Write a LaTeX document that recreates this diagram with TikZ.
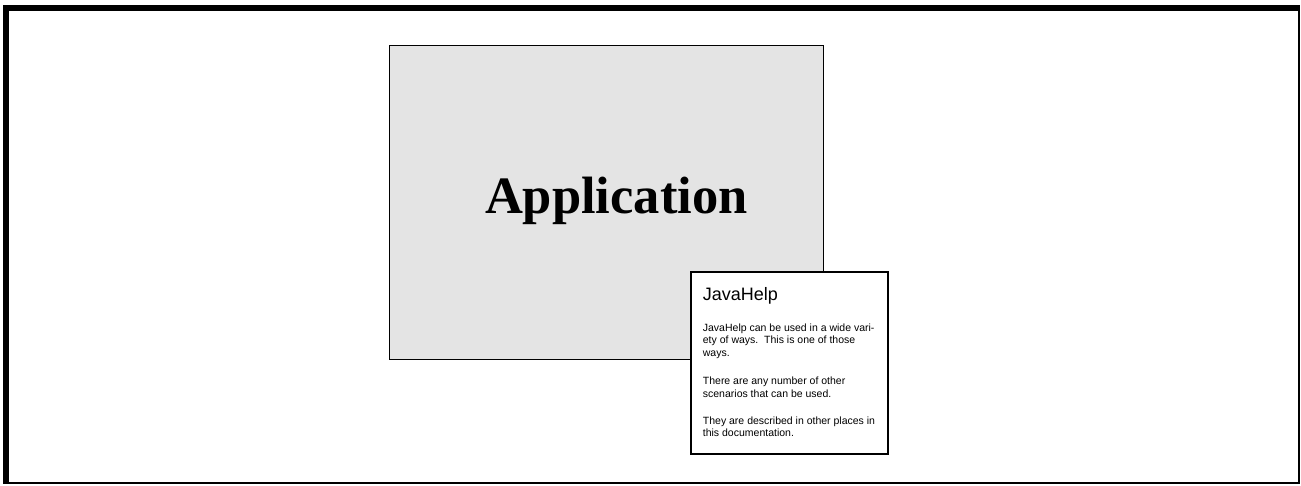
\documentclass[tikz,border=0pt]{standalone}
\usepackage{fontspec}
\setmainfont{Liberation Serif}
\newfontfamily\arialfont{Liberation Sans}
\definecolor{appgray}{HTML}{E4E4E4}
\begin{document}
\begin{tikzpicture}[x=1pt,y=-1pt,
  boxline/.style={draw=black,line width=1.5pt},
  bodyline/.style={anchor=base west,inner sep=0pt,font=\arialfont\fontsize{10.5}{12.5}\selectfont}]
\useasboundingbox (0,0) rectangle (1301,485);
% outer frame
\fill[white] (0,0) rectangle (1301,485);
\fill[black] (3,5) rectangle (1300,11);
\fill[black] (3,5) rectangle (8.5,484);
\fill[black] (1298,5) rectangle (1300,484);
\fill[black] (3,482) rectangle (1300,484);
% application box
\node[boxline,fill=appgray,minimum width=434pt,minimum height=314pt,inner sep=0pt] (app) at (606.5,202.5) {};
\node[anchor=base,inner sep=0pt,font=\fontsize{52.5}{60}\selectfont\bfseries] (apptext) at (616.3,213.3) {Application};
% javahelp box
\node[boxline,fill=white,minimum width=197pt,minimum height=182pt,inner sep=0pt] (jh) at (789.5,363.2) {};
\node[anchor=base west,inner sep=0pt,font=\arialfont\fontsize{18}{20}\selectfont] (jhtitle) at (702.7,300.7) {JavaHelp};
\node[bodyline] (l1) at (702.7,331) {JavaHelp can be used in a wide vari-};
\node[bodyline] (l2) at (702.7,343.5) {ety of ways.\ \ This is one of those};
\node[bodyline] (l3) at (702.7,356) {ways.};
\node[bodyline] (l4) at (702.7,384.5) {There are any number of other};
\node[bodyline] (l5) at (702.7,397) {scenarios that can be used.};
\node[bodyline] (l6) at (702.7,424) {They are described in other places in};
\node[bodyline] (l7) at (702.7,436.5) {this documentation.};
\end{tikzpicture}
\end{document}
